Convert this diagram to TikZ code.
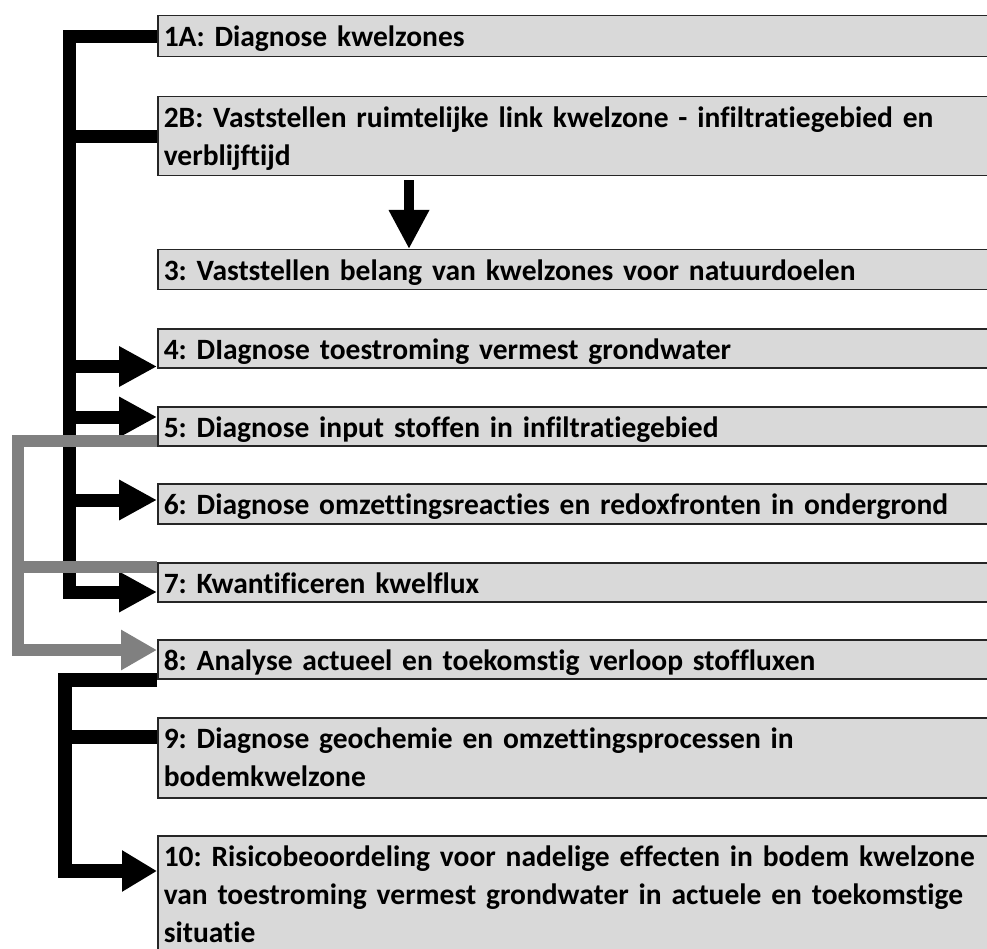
\documentclass[tikz,border=0pt]{standalone}
\usepackage{fontspec}
\setmainfont[RawFeature={-liga;-clig;-dlig}]{Carlito}
\frenchspacing
\usetikzlibrary{arrows.meta,calc}
\definecolor{boxfill}{HTML}{D9D9D9}
\definecolor{grayline}{HTML}{808080}
\pgfdeclarelayer{bg}
\pgfsetlayers{bg,main}
\newcommand\kboxfont{\fontsize{29.5}{38}\selectfont\bfseries\frenchspacing\spaceskip=5.6pt plus 2pt\relax}
\begin{document}
\begin{tikzpicture}[x=1pt,y=-1pt,
  kbox/.style={draw=black!85, line width=1.5pt, fill=boxfill, anchor=north west,
    inner xsep=6pt, inner ysep=0pt, text width=900pt, align=left,
    font=\kboxfont, text height=31pt},
  blk/.style={draw=black, line width=13pt, line join=miter},
  blkb/.style={draw=black, line width=14pt, line join=miter},
  gry/.style={draw=grayline, line width=12pt, line join=miter},
  tipA/.style={-{Triangle[length=38pt,width=38pt]}},
  tipG/.style={-{Triangle[length=36pt,width=38pt]}},
  tipB/.style={-{Triangle[length=35pt,width=39pt]}},
  tipD/.style={-{Triangle[length=39pt,width=38pt]}}
]
\clip (0,0) rectangle (987,949);

\node[kbox, text depth=10pt] (n1) at (157,15) {1A: Diagnose kwelzones};
\node[kbox, text depth=48pt] (n2) at (157,96) {2B: Vaststellen ruimtelijke link kwelzone - infiltratiegebied en\\verblijftijd};
\node[kbox, text depth=9pt] (n3) at (157,249) {3: Vaststellen belang van kwelzones voor natuurdoelen};
\node[kbox, text depth=8pt] (n4) at (157,328) {4: DIagnose toestroming vermest grondwater};
\node[kbox, text depth=8pt] (n5) at (157,406) {5: Diagnose input stoffen in infiltratiegebied};
\node[kbox, text depth=9pt] (n6) at (157,483) {6: Diagnose omzettingsreacties en redoxfronten in ondergrond};
\node[kbox, text depth=8pt] (n7) at (157,562) {7: Kwantificeren kwelflux};
\node[kbox, text depth=8pt] (n8) at (157,639) {8: Analyse actueel en toekomstig verloop stoffluxen};
\node[kbox, text depth=49pt] (n9) at (157,717) {9: Diagnose geochemie en omzettingsprocessen in\\bodemkwelzone};
\node[kbox, text depth=130pt] (n10) at (157,835) {10: Risicobeoordeling voor nadelige effecten in bodem kwelzone\\van toestroming vermest grondwater in actuele en toekomstige\\situatie};

\coordinate (spA) at (69.5,0);
\coordinate (spG) at (18,0);
\coordinate (spB) at (65,0);
\coordinate (a4) at ([yshift=2pt]n4.south west);
\coordinate (a5) at ([yshift=-11pt]n5.north west);
\coordinate (a6) at ([yshift=-17pt]n6.north west);
\coordinate (a7) at ([yshift=-30pt]n7.north west);
\coordinate (g5) at ([yshift=5.5pt]n5.south west);
\coordinate (g7) at ([yshift=-4.5pt]n7.north west);
\coordinate (g8) at ([yshift=-11pt]n8.north west);
\coordinate (b9) at ([yshift=-20pt]n9.north west);
\coordinate (a10) at ([yshift=-36pt]n10.north west);

\begin{pgfonlayer}{bg}
  % upper black bracket
  \draw[blk, tipA] (n1.west) -- (n1.west -| spA) -- (a7 -| spA) -- (a7);
  \draw[blk] (n2.west) -- (n2.west -| spA);
  \draw[blk, tipA] (a4 -| spA) -- (a4);
  \draw[blk, tipA] (a5 -| spA) -- (a5);
  \draw[blk, tipA] (a6 -| spA) -- (a6);
  % gray bracket
  \draw[gry, tipG] (g5) -- (g5 -| spG) -- (g8 -| spG) -- (g8);
  \draw[gry] (g7 -| spG) -- (g7);
  % lower black bracket
  \draw[blkb, tipB] (n8.south west) -- (n8.south west -| spB) -- (a10 -| spB) -- (a10);
  \draw[blkb] (b9 -| spB) -- (b9);
  % down arrow 2B -> 3
  \draw[draw=black, line width=9.5pt, tipD] ([shift={(252pt,-4pt)}]n2.south west) -- ([xshift=252pt]n3.north west);
\end{pgfonlayer}
\end{tikzpicture}
\end{document}
